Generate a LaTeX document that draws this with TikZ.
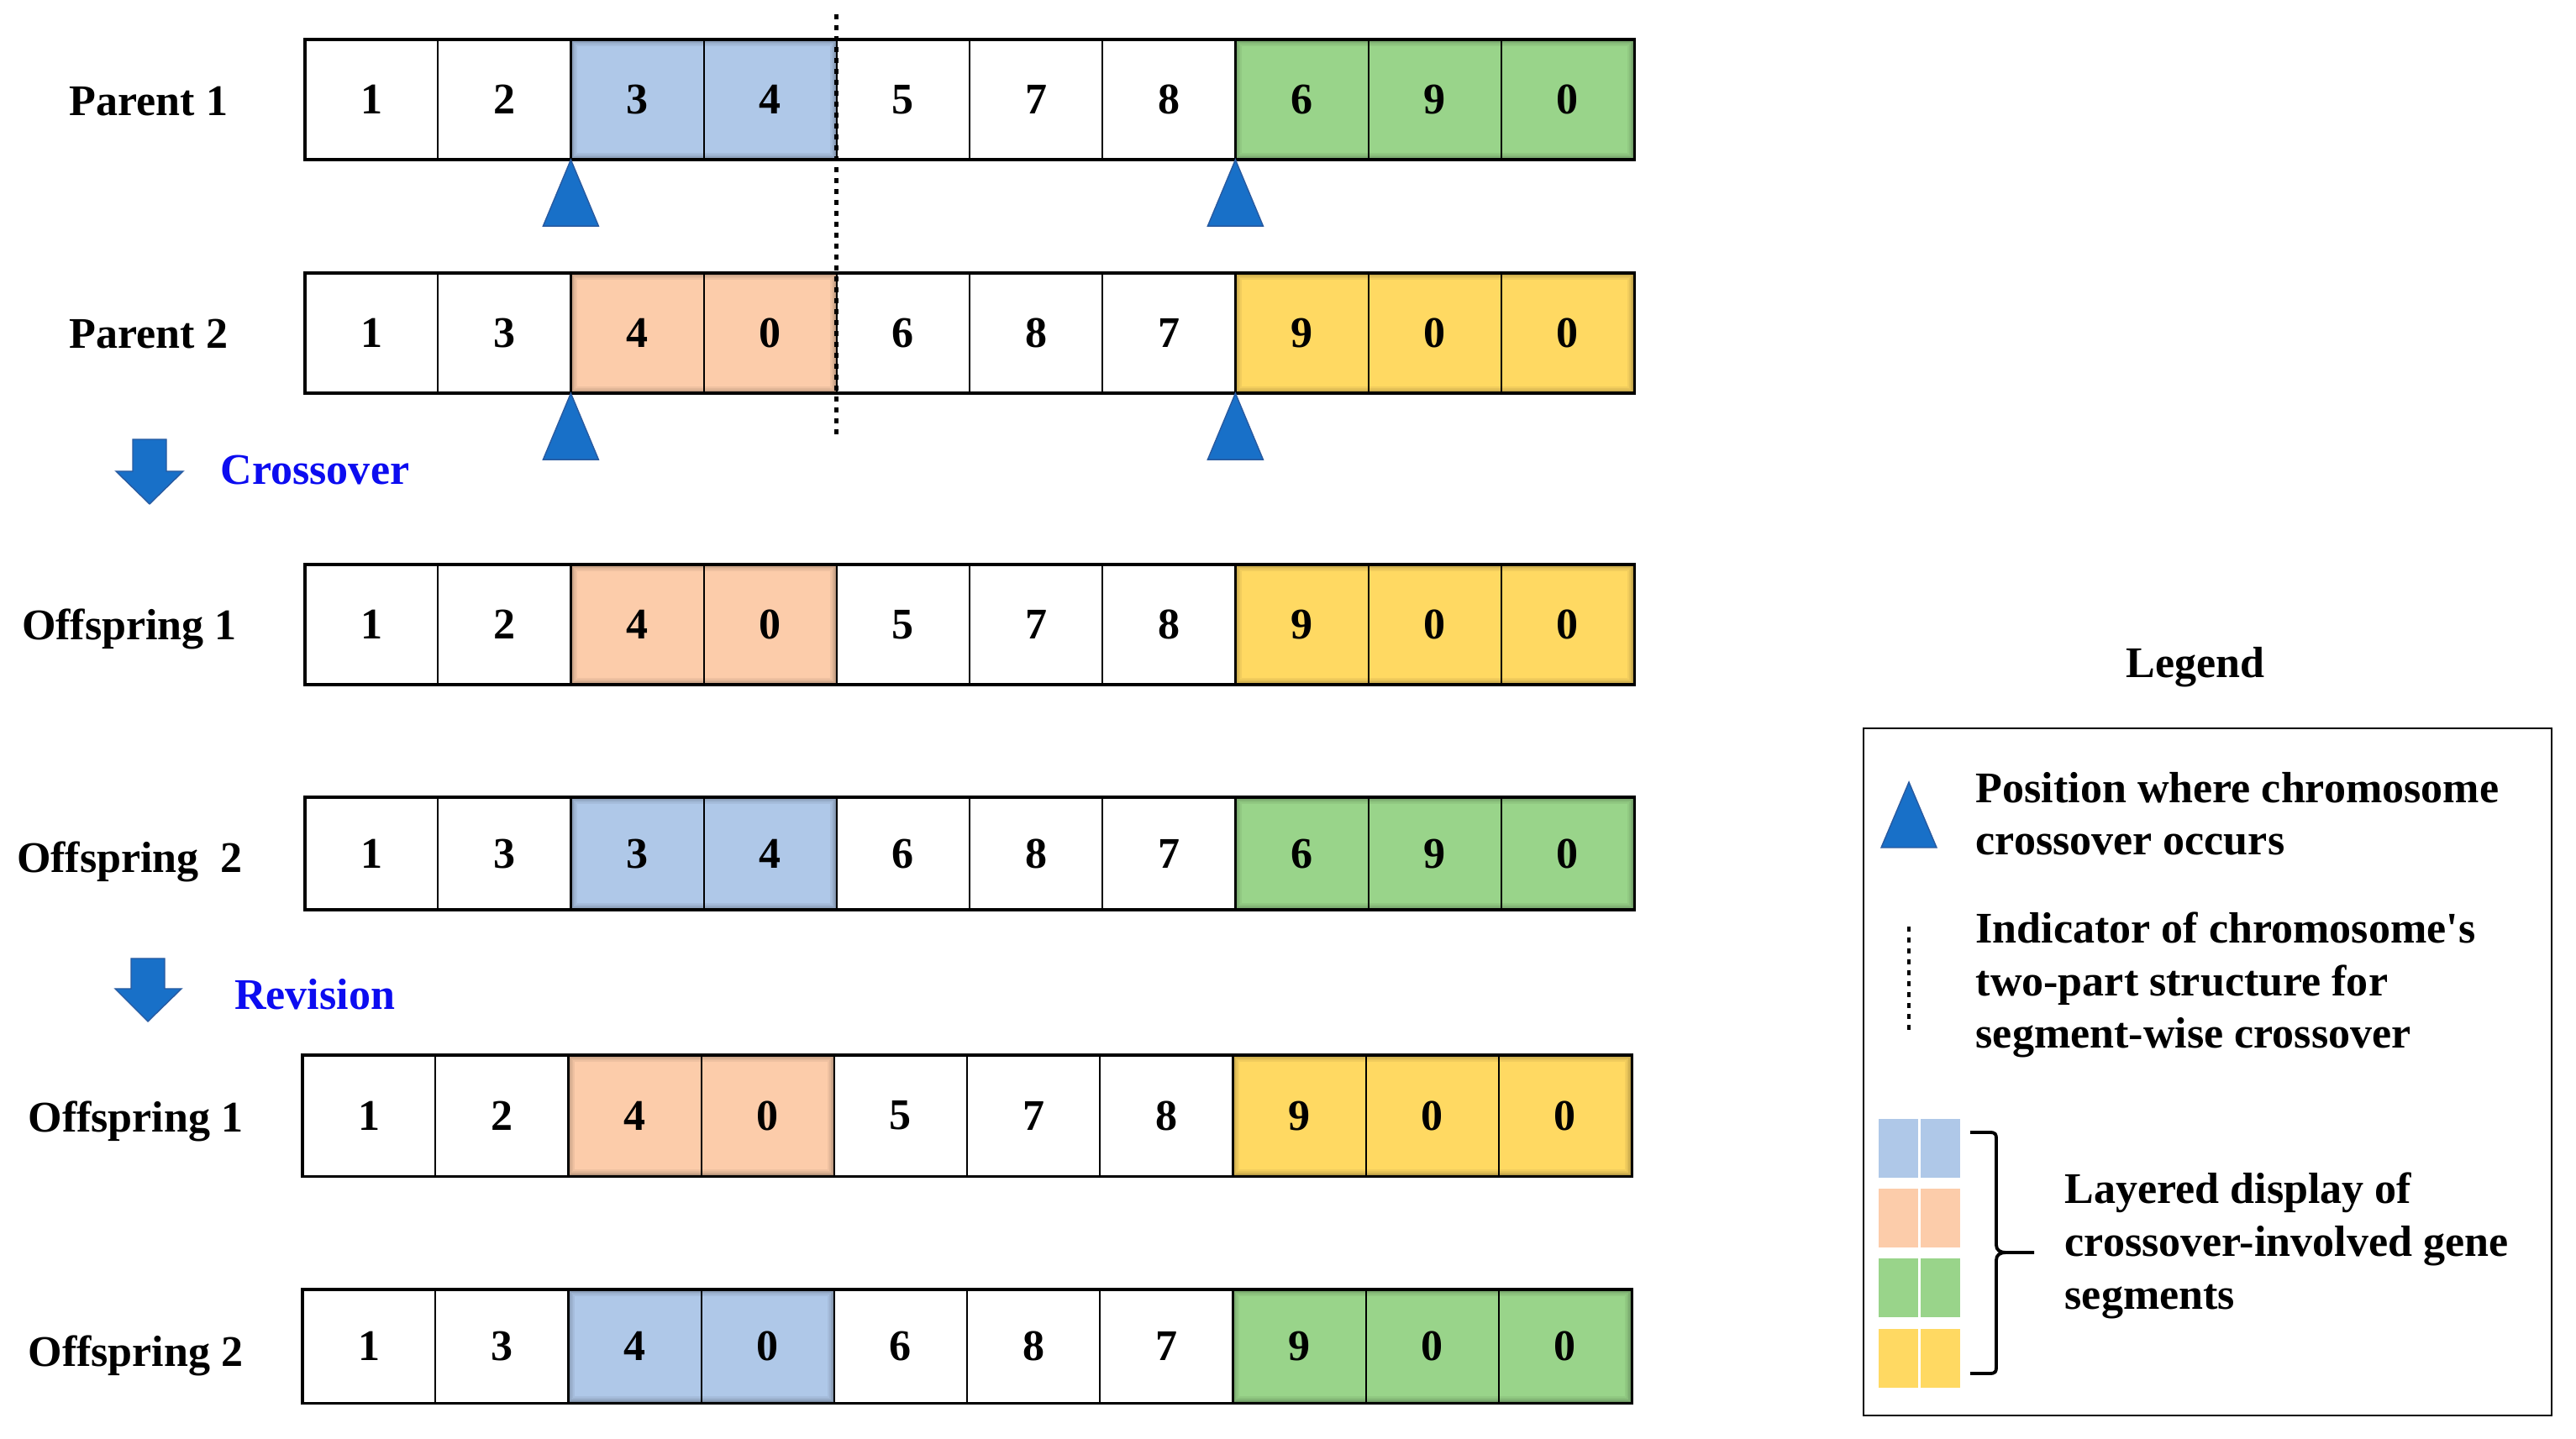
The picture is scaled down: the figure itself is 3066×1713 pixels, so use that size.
\documentclass[tikz,border=0pt]{standalone}
\usepackage{fontspec}
\setmainfont{Liberation Serif}[Ligatures=TeXOff]
\usepackage{tikz}
\usetikzlibrary{backgrounds}
\definecolor{segblue}{RGB}{175,200,232}
\definecolor{segorange}{RGB}{252,204,170}
\definecolor{seggreen}{RGB}{153,212,138}
\definecolor{segyellow}{RGB}{255,217,98}
\definecolor{markblue}{RGB}{24,112,200}
\definecolor{markedge}{RGB}{40,90,160}
\definecolor{phaseblue}{RGB}{12,12,240}
\newcommand{\gene}{\fontsize{14.8}{17.9}\selectfont\bfseries}
\newcommand{\segshade}[3]{%
  \fill[#1] (#2.north west) rectangle (#3.south east);
  \foreach \k/\o in {1/0.3,3/0.18,5/0.1,7/0.05}
    \draw[black, opacity=\o, line width=0.6pt] ([shift={(\k,\k)}]#2.north west) rectangle ([shift={(-\k,-\k)}]#3.south east);
}

\begin{document}
\begin{tikzpicture}[x=0.01cm, y=-0.01cm, line join=miter,
  cell/.style={draw, line width=0.6pt, anchor=north west, outer sep=0pt, inner sep=0pt, minimum width=1.582cm, font=\gene},
  frame/.style={draw, line width=0.9pt},
  lab/.style={anchor=base, font=\gene},
  phase/.style={anchor=base west, font=\gene, text=phaseblue, inner sep=0pt},
  cutmark/.style={fill=markblue, draw=markedge, line width=0.4pt},
  divider/.style={line width=1.4pt, dash pattern=on 1.6pt off 2.1pt},
  legtext/.style={anchor=base west, align=left, font=\gene, inner sep=0pt}]

\useasboundingbox (0,0) rectangle (3066,1713);


\foreach \d [count=\i] in {1,2,3,4,5,7,8,6,9,0}
  \node[cell, minimum height=1.43cm] (p1-\i) at ({363+158.2*(\i-1)},47) {\d};
\foreach \d [count=\i] in {1,3,4,0,6,8,7,9,0,0}
  \node[cell, minimum height=1.43cm] (p2-\i) at ({363+158.2*(\i-1)},325) {\d};
\foreach \d [count=\i] in {1,2,4,0,5,7,8,9,0,0}
  \node[cell, minimum height=1.43cm] (o1-\i) at ({363+158.2*(\i-1)},672) {\d};
\foreach \d [count=\i] in {1,3,3,4,6,8,7,6,9,0}
  \node[cell, minimum height=1.34cm] (o2-\i) at ({363+158.2*(\i-1)},949) {\d};
\foreach \d [count=\i] in {1,2,4,0,5,7,8,9,0,0}
  \node[cell, minimum height=1.44cm] (r1-\i) at ({360+158.2*(\i-1)},1256) {\d};
\foreach \d [count=\i] in {1,3,4,0,6,8,7,9,0,0}
  \node[cell, minimum height=1.35cm] (r2-\i) at ({360+158.2*(\i-1)},1535) {\d};

\foreach \r in {p1,p2,o1,o2,r1,r2}
  \draw[frame] (\r-1.north west) rectangle (\r-10.south east);


\node[lab] (p1lab) at (177,138) {Parent 1};
\node[lab] (p2lab) at (177,415) {Parent 2};
\node[lab] (o1lab) at (154,762) {Offspring 1};
\node[lab] (o2lab) at (154.5,1039) {Offspring\ \ 2};
\node[lab] (r1lab) at (161.5,1347) {Offspring 1};
\node[lab] (r2lab) at (161.5,1626) {Offspring 2};


\draw[cutmark] (p1-3.south west) -- ++(-33,79) -- ++(66,0) -- cycle;
\draw[cutmark] (p1-8.south west) -- ++(-33,79) -- ++(66,0) -- cycle;
\draw[cutmark] (p2-3.south west) -- ++(-33,79) -- ++(66,0) -- cycle;
\draw[cutmark] (p2-8.south west) -- ++(-33,79) -- ++(66,0) -- cycle;

\draw[divider] ([yshift=0.3cm]p1-4.north east) -- ([yshift=-0.52cm]p2-4.south east);


\draw[cutmark] (158,523) -- (198,523) -- (198,561) -- (218,561) -- (178,600) -- (138,561) -- (158,561) -- cycle;
\node[phase] (xlab) at (262,577) {Crossover};

\draw[cutmark] (156,1141) -- (196,1141) -- (196,1177) -- (216,1177) -- (176,1216) -- (137,1177) -- (156,1177) -- cycle;
\node[phase] (rlab) at (278.5,1202) {Revision};


\node[lab] (legtitle) at (2613,807) {Legend};
\draw[line width=0.8pt] (2218,867) rectangle (3037,1685);

\draw[cutmark] (2272,931) -- ++(-33,78) -- ++(66,0) -- cycle;
\node[legtext] (legmark) at (2351,1018) {Position where chromosome\\crossover occurs};

\draw[divider] (2272,1103) -- (2272,1233);
\node[legtext] (legdiv) at (2351,1248) {Indicator of chromosome's\\two-part structure for\\segment-wise crossover};

\foreach \c [count=\j] in {segblue,segorange,seggreen,segyellow} {
  \fill[\c] (2236,{1332+83.2*(\j-1)}) rectangle ++(46.7,70);
  \fill[\c] (2285.7,{1332+83.2*(\j-1)}) rectangle ++(47,70);
}
\draw[line width=1.1pt] (2345,1348) -- (2368,1348) .. controls (2375,1348) and (2376,1350) .. (2376,1356) -- (2376,1482) .. controls (2376,1488) and (2380,1491) .. (2388,1491) -- (2421,1491);
\draw[line width=1.1pt] (2345,1635) -- (2368,1635) .. controls (2375,1635) and (2376,1633) .. (2376,1627) -- (2376,1500) .. controls (2376,1494) and (2380,1491) .. (2388,1491);
\node[legtext] (legseg) at (2457,1558) {Layered display of\\crossover-involved gene\\segments};


\begin{scope}[on background layer]
\fill[white] (0,0) rectangle (3066,1713);
\segshade{segblue}{p1-3}{p1-4}
\segshade{seggreen}{p1-8}{p1-10}
\segshade{segorange}{p2-3}{p2-4}
\segshade{segyellow}{p2-8}{p2-10}
\segshade{segorange}{o1-3}{o1-4}
\segshade{segyellow}{o1-8}{o1-10}
\segshade{segblue}{o2-3}{o2-4}
\segshade{seggreen}{o2-8}{o2-10}
\segshade{segorange}{r1-3}{r1-4}
\segshade{segyellow}{r1-8}{r1-10}
\segshade{segblue}{r2-3}{r2-4}
\segshade{seggreen}{r2-8}{r2-10}
\end{scope}

\end{tikzpicture}
\end{document}
